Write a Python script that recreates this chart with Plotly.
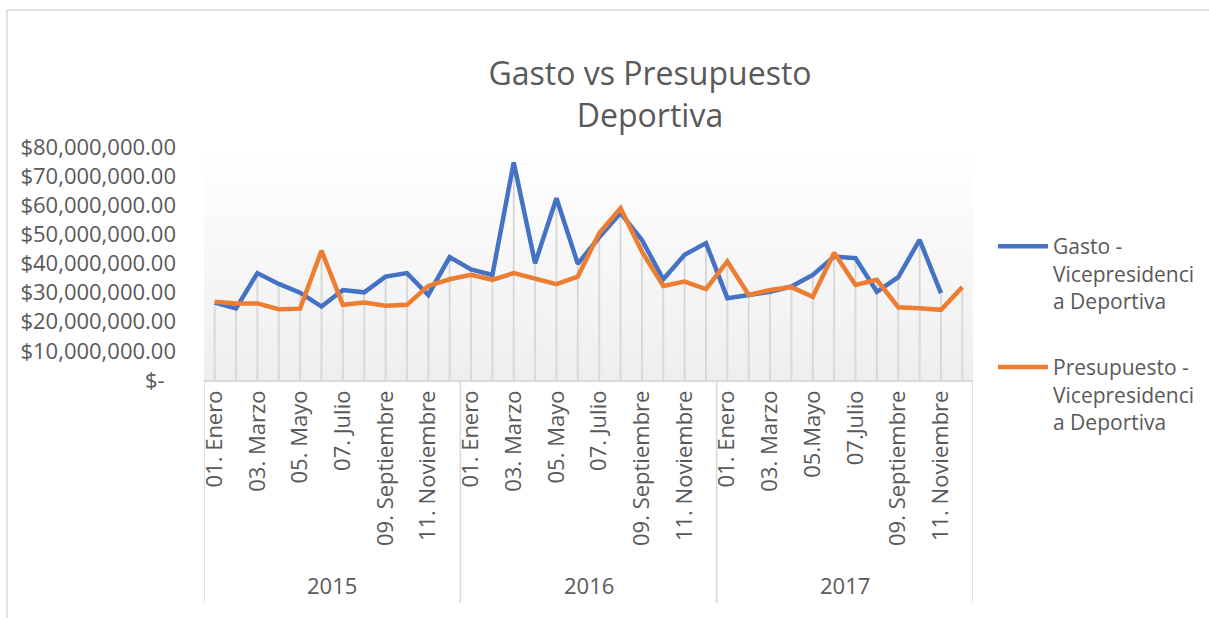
import plotly.graph_objects as go

years = ["2015", "2016", "2017"]
months_std = ["01. Enero", "02. Febrero", "03. Marzo", "04. Abril", "05. Mayo", "06. Junio",
              "07. Julio", "08. Agosto", "09. Septiembre", "10. Octubre", "11. Noviembre", "12. Diciembre"]
months_2017 = ["01. Enero", "02. Febrero", "03. Marzo", "04. Abril", "05.Mayo", "06.Junio",
               "07.Julio", "08.Agosto", "09. Septiembre", "10. Octubre", "11. Noviembre", "12. Diciembre"]
month_labels = months_std + months_std + months_2017

gasto = [26.6, 24.6, 36.7, 33.0, 30.0, 25.2, 30.9, 30.1, 35.5, 36.7, 29.2, 42.2,
         38.0, 36.1, 74.7, 40.1, 62.4, 39.9, 49.0, 57.3, 48.1, 34.6, 43.0, 47.0,
         28.1, 29.2, 30.3, 32.1, 36.1, 42.4, 41.8, 30.3, 35.3, 48.1, 29.8, None]
presupuesto = [26.9, 26.3, 26.3, 24.3, 24.5, 44.4, 25.8, 26.6, 25.5, 25.8, 32.3, 34.6,
               36.1, 34.4, 36.7, 34.9, 32.9, 35.5, 50.4, 59.0, 44.1, 32.3, 33.8, 31.2,
               40.7, 29.2, 30.9, 31.9, 28.6, 43.7, 32.6, 34.4, 25.0, 24.6, 24.1, 31.9]
gasto = [None if v is None else v * 1e6 for v in gasto]
presupuesto = [v * 1e6 for v in presupuesto]

y_ticks = [0, 10e6, 20e6, 30e6, 40e6, 50e6, 60e6, 70e6, 80e6]
y_ticktext = ["$-\u00a0\u00a0"] + ["${:,.2f}".format(v) for v in y_ticks[1:]]

n = len(month_labels)
xs = list(range(n))
FONT = "Open Sans"
TXT = "#595959"
FS = 22

fig = go.Figure()

# plot-area gradient background
fig.add_trace(go.Scatter(
    x=[-0.5, n - 0.5, n - 0.5, -0.5, -0.5], y=[0, 0, y_ticks[-1], y_ticks[-1], 0],
    mode="lines", line=dict(width=0), fill="toself",
    fillgradient=dict(type="vertical", colorscale=[[0, "#eeeeee"], [0.15, "#f1f1f1"], [1, "#ffffff"]],
                      start=0, stop=y_ticks[-1]),
    showlegend=False, hoverinfo="skip"))

# drop lines
dx, dy = [], []
for i in xs:
    vals = [v for v in (gasto[i], presupuesto[i]) if v is not None]
    dx += [i, i, None]
    dy += [0, max(vals), None]
fig.add_trace(go.Scatter(x=dx, y=dy, mode="lines", line=dict(color="#d9d9d9", width=2),
                         showlegend=False, hoverinfo="skip"))

fig.add_trace(go.Scatter(x=xs, y=gasto, mode="lines", name="Gasto -<br>Vicepresidenci<br>a Deportiva",
                         line=dict(color="#4472C4", width=4.5), legendgroup="g"))
fig.add_trace(go.Scatter(x=xs, y=presupuesto, mode="lines",
                         name="Presupuesto -<br>Vicepresidenci<br>a Deportiva",
                         line=dict(color="#ED7D31", width=4.5), legendgroup="p"))

L, R, T, B = 204, 236, 147, 238
W, H = 1209, 618
pw = W - L - R
ph = H - T - B


def px_x(p):
    return (p - L) / pw


def px_y(p):
    return (H - B - p) / ph


shapes = []
# category group dividers
for b in [-0.5, 11.5, 23.5, 35.5]:
    shapes.append(dict(type="line", xref="x", yref="paper", x0=b, x1=b, y0=0, y1=px_y(603),
                       line=dict(color="#d9d9d9", width=1.5)))
# chart frame (top and left)
shapes.append(dict(type="line", xref="paper", yref="paper", x0=px_x(7), x1=px_x(1209), y0=px_y(10), y1=px_y(10),
                   line=dict(color="#d9d9d9", width=1.5)))
shapes.append(dict(type="line", xref="paper", yref="paper", x0=px_x(7), x1=px_x(7), y0=px_y(10), y1=px_y(640),
                   line=dict(color="#d9d9d9", width=1.5)))

annotations = []
for k, yr in enumerate(years):
    annotations.append(dict(text=yr, x=k * 12 + 5.5, xref="x", y=px_y(585), yref="paper",
                            showarrow=False, font=dict(family=FONT, size=FS, color=TXT),
                            xanchor="center", yanchor="middle"))

fig.update_layout(
    width=W, height=H, margin=dict(l=L, r=R, t=T, b=B, autoexpand=False),
    paper_bgcolor="white", plot_bgcolor="white",
    title=dict(text="Gasto vs Presupuesto<br>Deportiva", x=650 / W, xref="container", xanchor="center",
               y=1 - 85 / H, yref="container", yanchor="middle",
               font=dict(family=FONT, size=32, color=TXT)),
    font=dict(family=FONT, size=FS, color=TXT),
    xaxis=dict(range=[-0.5, n - 0.5], tickvals=xs[::2], ticktext=month_labels[::2], tickangle=-90,
               showgrid=False, zeroline=False, showline=True, linecolor="#d9d9d9", linewidth=1.5,
               ticks="", tickfont=dict(family=FONT, size=FS, color=TXT), automargin=False),
    yaxis=dict(range=[0, y_ticks[-1]], tickvals=y_ticks, ticktext=y_ticktext, showgrid=False,
               zeroline=False, showline=False, ticks="", ticklabelstandoff=27,
               tickfont=dict(family=FONT, size=FS, color=TXT), automargin=False),
    legend=dict(x=px_x(993), y=px_y(226), xanchor="left", yanchor="top", traceorder="grouped",
                tracegroupgap=36, valign="top", font=dict(family=FONT, size=FS - 1, color=TXT),
                bgcolor="rgba(0,0,0,0)", itemwidth=50),
    shapes=shapes, annotations=annotations, hovermode=False,
)

fig.write_html("out.html", config={"displayModeBar": False},
               post_script="document.body.style.margin='0';document.body.style.padding='0';")
